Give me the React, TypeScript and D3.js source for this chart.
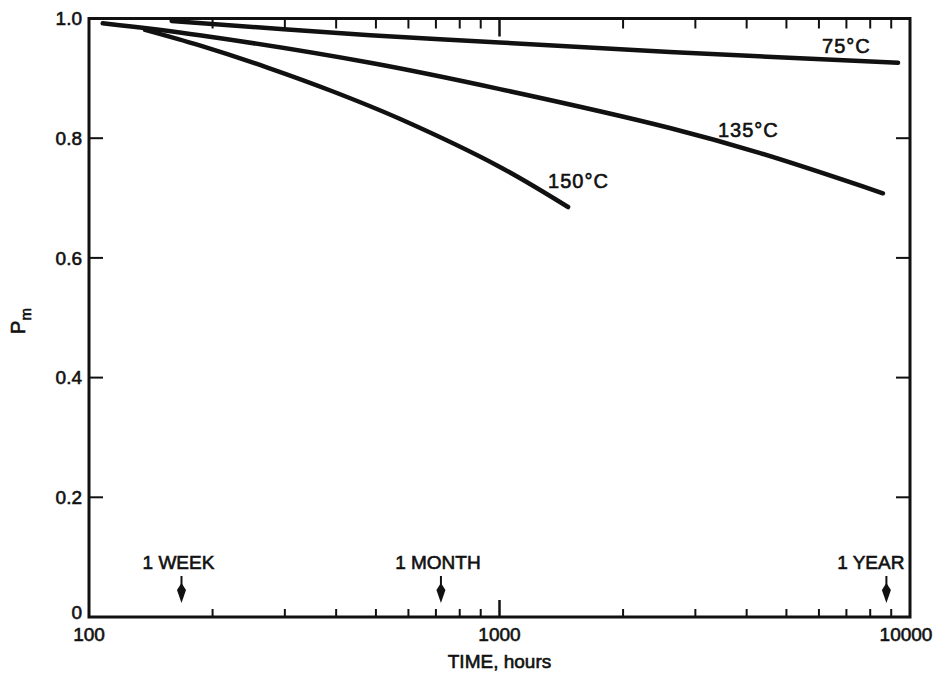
import React from "react";
import * as d3 from "d3";

// ---- data ----
const series75Time = [159, 484, 1000, 2600, 9350];
const series75P = [0.996, 0.972, 0.96, 0.944, 0.926];

const series135Time = [108, 186, 484, 1002, 2600, 4315, 8590];
const series135P = [0.992, 0.972, 0.926, 0.882, 0.817, 0.775, 0.708];

const series150Time = [137, 186, 272, 393, 573, 1002, 1469];
const series150P = [0.981, 0.955, 0.918, 0.878, 0.832, 0.752, 0.685];

const seriesNames = ["75°C", "135°C", "150°C"];

const yTicks = [0, 0.2, 0.4, 0.6, 0.8, 1.0];
const yTickLabels = ["0", "0.2", "0.4", "0.6", "0.8", "1.0"];
const xMajorTicks = [100, 1000, 10000];
const xMajorLabels = ["100", "1000", "10000"];
const xMinorTicks = [200, 300, 400, 500, 600, 700, 800, 900, 2000, 3000, 4000, 5000, 6000, 7000, 8000, 9000];

const markerHours = [168, 720, 8760];
const markerLabels = ["1 WEEK", "1 MONTH", "1 YEAR"];

const xTitle = "TIME, hours";

export default function App() {
  const W = 940;
  const H = 680;
  const left = 89, right = 910, top = 18.5, bottom = 617;

  const x = d3.scaleLog().domain([100, 10000]).range([left, right]);
  const y = d3.scaleLinear().domain([0, 1]).range([bottom, top]);

  const line = d3
    .line<[number, number]>()
    .x((d) => x(d[0]))
    .y((d) => y(d[1]))
    .curve(d3.curveCatmullRom.alpha(0.5));

  const curves = [
    series75Time.map((t, i) => [t, series75P[i]] as [number, number]),
    series135Time.map((t, i) => [t, series135P[i]] as [number, number]),
    series150Time.map((t, i) => [t, series150P[i]] as [number, number]),
  ];

  const font = "'Liberation Sans', Arial, Helvetica, sans-serif";
  const textStyle = { fontFamily: font, fill: "#111", stroke: "#111", strokeWidth: 0.6 } as const;

  // label placements relative to the curve ends
  const labelPos = [
    { x: x(9350) - 76, y: y(0.926) - 10 },
    { x: x(8590) - 165, y: y(0.708) - 56 },
    { x: x(1469) - 20, y: y(0.685) - 19 },
  ];

  return (
    <svg width={W} height={H} style={{ display: "block", position: "absolute", left: 0, top: 0, background: "#fff" }}>
      <rect x={0} y={0} width={W} height={H} fill="#fff" />
      {/* frame */}
      <rect x={left} y={top} width={right - left} height={bottom - top} fill="none" stroke="#111" strokeWidth={3} />

      {/* y ticks, left and right, inward */}
      {yTicks.filter((v) => v > 0 && v < 1).map((v) => (
        <g key={"yt" + v}>
          <line x1={left} x2={left + 14} y1={y(v)} y2={y(v)} stroke="#111" strokeWidth={2} />
          <line x1={right} x2={right - 14} y1={y(v)} y2={y(v)} stroke="#111" strokeWidth={2} />
        </g>
      ))}
      {yTicks.map((v, i) => (
        <text
          key={"yl" + v}
          x={left - 7}
          y={y(v) - (v === 0 ? 5 : 0)}
          dy="0.36em"
          textAnchor="end"
          fontSize={19}
          style={textStyle}
        >
          {yTickLabels[i]}
        </text>
      ))}

      {/* x ticks bottom & top */}
      {xMinorTicks.map((v) => (
        <g key={"xt" + v}>
          <line x1={x(v)} x2={x(v)} y1={bottom} y2={bottom - 8} stroke="#111" strokeWidth={2} />
          <line x1={x(v)} x2={x(v)} y1={top} y2={top + 10} stroke="#111" strokeWidth={2} />
        </g>
      ))}
      <line x1={x(1000)} x2={x(1000)} y1={bottom} y2={bottom - 17} stroke="#111" strokeWidth={2.5} />
      <line x1={x(1000)} x2={x(1000)} y1={top} y2={top + 18} stroke="#111" strokeWidth={2.5} />
      {xMajorTicks.map((v, i) => (
        <text key={"xl" + v} x={x(v) - (i === 2 ? 4 : 0)} y={641} textAnchor="middle" fontSize={19} style={textStyle}>
          {xMajorLabels[i]}
        </text>
      ))}

      {/* axis titles */}
      <text x={left + (right - left) / 2} y={668} textAnchor="middle" fontSize={19} style={textStyle}>
        {xTitle}
      </text>
      <text transform={`translate(25,321) rotate(-90)`} textAnchor="middle" fontSize={20} style={textStyle}>
        P<tspan fontSize={15} dy={6}>m</tspan>
      </text>

      {/* curves */}
      {curves.map((c, i) => (
        <path key={"c" + i} d={line(c) || ""} fill="none" stroke="#111" strokeWidth={4.5} strokeLinecap="round" />
      ))}
      {seriesNames.map((n, i) => (
        <text key={"n" + i} x={labelPos[i].x} y={labelPos[i].y} fontSize={20} letterSpacing={1} style={textStyle}>
          {n}
        </text>
      ))}

      {/* time markers */}
      {markerHours.map((h, i) => {
        const mx = x(h);
        return (
          <g key={"m" + i}>
            <line x1={mx} x2={mx} y1={576} y2={588} stroke="#111" strokeWidth={2} />
            <path d={`M${mx},583 L${mx + 4.5},590 L${mx},603 L${mx - 4.5},590 Z`} fill="#111" />
            <text
              x={i === 2 ? mx + 18 : mx - 3}
              y={569}
              textAnchor={i === 2 ? "end" : "middle"}
              fontSize={19}
              style={textStyle}
            >
              {markerLabels[i]}
            </text>
          </g>
        );
      })}
    </svg>
  );
}
